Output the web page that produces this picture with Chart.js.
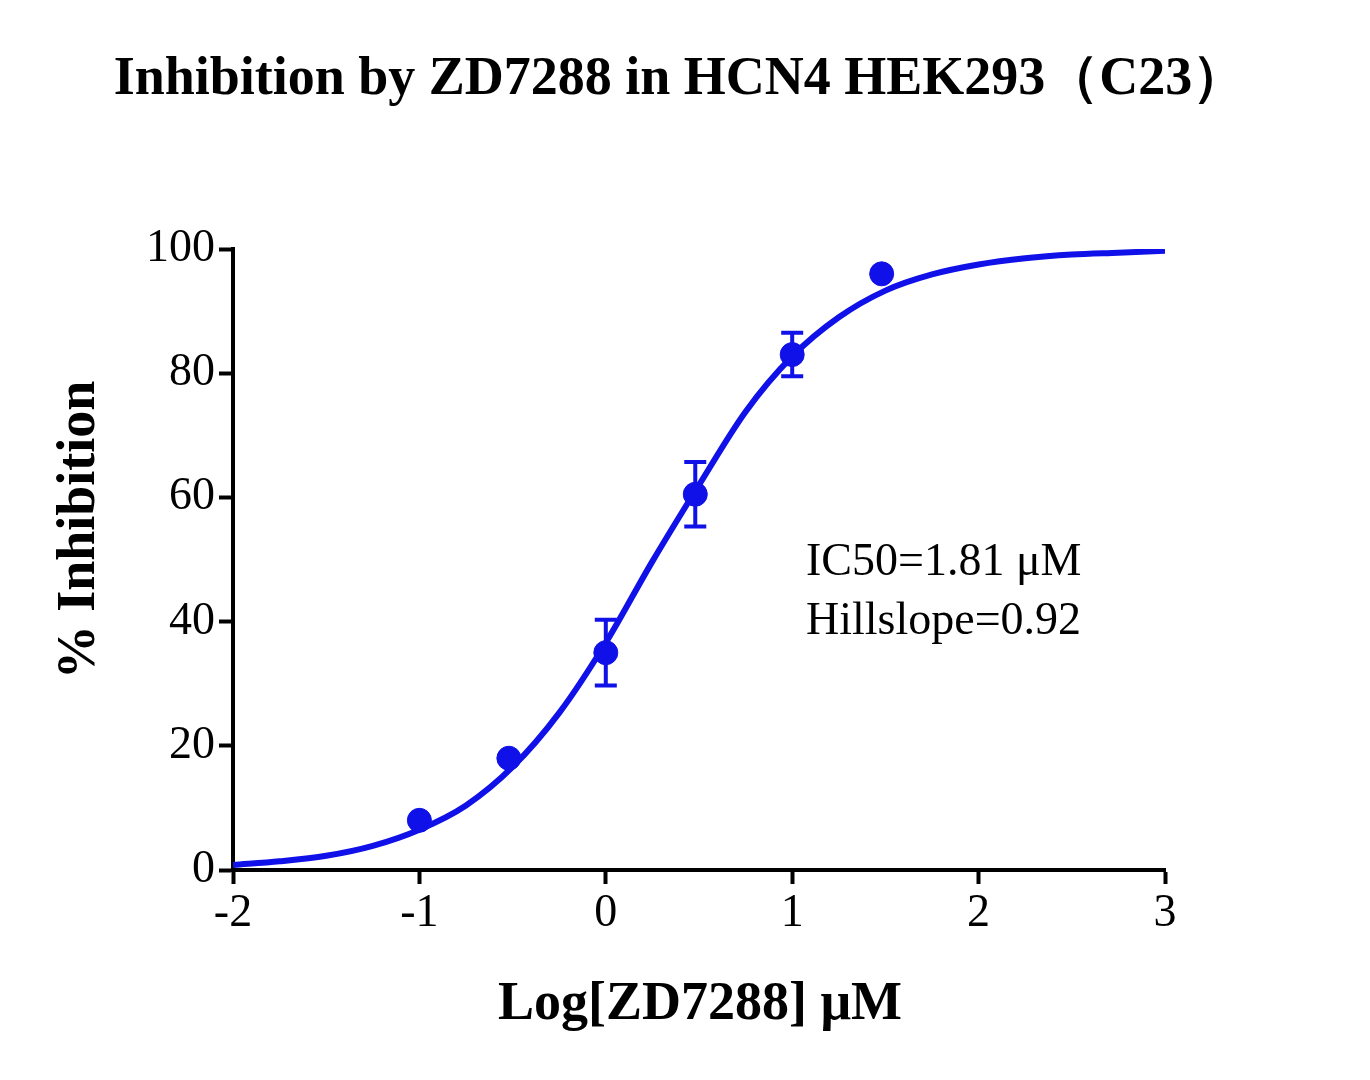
<!DOCTYPE html>
<html>
<head>
<meta charset="utf-8">
<script src="https://cdn.jsdelivr.net/npm/chart.js@4"></script>
<style>
  body { margin: 0; background: #fff; }
  #wrap { width: 1370px; height: 1080px; }
</style>
</head>
<body>
<div id="wrap"><canvas id="myChart"></canvas></div>
<script>
// Datos medidos (log concentración, % inhibición, error)
var logDosis = [-1, -0.52, 0, 0.48, 1, 1.48];
var inhibicion = [8, 18, 35, 60.5, 83, 96];
var errores = [0, 0, 5.3, 5.2, 3.5, 0];

// Curva ajustada
var curvaX = [-2, -1.75, -1.5, -1.25, -1, -0.75, -0.5, -0.25, 0, 0.25, 0.5, 0.75, 1, 1.25, 1.5, 1.75, 2, 2.25, 2.5, 2.75, 3];
var curvaY = [0.8, 1.4, 2.3, 3.9, 6.5, 10.4, 16.6, 25.3, 36.6, 49.7, 62, 73.8, 82.7, 89, 93.3, 95.9, 97.5, 98.5, 99.1, 99.4, 99.7];

var xTicks = [-2, -1, 0, 1, 2, 3];
var yTicks = [0, 20, 40, 60, 80, 100];

var azul = '#1010e8';
var fuente = "'Liberation Serif', 'Times New Roman', serif";

var puntos = logDosis.map(function (x, i) { return { x: x, y: inhibicion[i] }; });
var curva = curvaX.map(function (x, i) { return { x: x, y: curvaY[i] }; });

var pluginExtras = {
    id: 'extras',
    afterDatasetsDraw: function (chart) {
        var ctx = chart.ctx;
        var xs = chart.scales.x, ys = chart.scales.y;
        ctx.save();
        ctx.strokeStyle = azul;
        ctx.lineWidth = 4;
        logDosis.forEach(function (x, i) {
            if (!errores[i]) return;
            var px = xs.getPixelForValue(x);
            var top = ys.getPixelForValue(inhibicion[i] + errores[i]);
            var bot = ys.getPixelForValue(inhibicion[i] - errores[i]);
            ctx.beginPath();
            ctx.moveTo(px, top); ctx.lineTo(px, bot);
            ctx.moveTo(px - 11, top); ctx.lineTo(px + 11, top);
            ctx.moveTo(px - 11, bot); ctx.lineTo(px + 11, bot);
            ctx.stroke();
        });
        ctx.fillStyle = '#000';
        ctx.textAlign = 'left';
        ctx.textBaseline = 'middle';
        ctx.font = '46px ' + fuente;
        ctx.fillText('IC50=1.81 \u03bcM', 806, 563);
        ctx.fillText('Hillslope=0.92', 806, 622);
        ctx.textAlign = 'center';
        ctx.font = 'bold 54px ' + fuente;
        ctx.fillText('Inhibition by ZD7288 in HCN4 HEK293\uff08C23\uff09', 680, 80);
        ctx.fillText('Log[ZD7288] \u03bcM', 700, 1005);
        ctx.translate(80, 530);
        ctx.rotate(-Math.PI / 2);
        ctx.fillText('% Inhibition', 0, 0);
        ctx.restore();
    }
};

var ejeGrid = { display: true, drawOnChartArea: false, drawTicks: true, tickLength: 14, tickWidth: 4, tickColor: '#000' };

var myChart = new Chart(document.getElementById('myChart').getContext('2d'), {
    type: 'scatter',
    data: {
        datasets: [
            { data: curva, showLine: true, borderColor: azul, borderWidth: 6, pointRadius: 0, cubicInterpolationMode: 'monotone' },
            { data: puntos, backgroundColor: azul, borderColor: azul, pointRadius: 12 }
        ]
    },
    options: {
        responsive: true,
        maintainAspectRatio: false,
        animation: false,
        layout: { padding: { left: 0, right: 205, top: 249, bottom: 0 } },
        plugins: { legend: { display: false }, tooltip: { enabled: false } },
        scales: {
            x: {
                type: 'linear', min: -2, max: 3,
                afterFit: function (s) { s.height = 210; },
                afterBuildTicks: function (s) { s.ticks = xTicks.map(function (v) { return { value: v }; }); },
                grid: ejeGrid,
                border: { color: '#000', width: 4 },
                ticks: { color: '#000', font: { family: fuente, size: 46 }, padding: 2 }
            },
            y: {
                type: 'linear', min: 0, max: 100,
                afterFit: function (s) { s.width = 233; },
                afterBuildTicks: function (s) { s.ticks = yTicks.map(function (v) { return { value: v }; }); },
                grid: ejeGrid,
                border: { color: '#000', width: 4 },
                ticks: { color: '#000', font: { family: fuente, size: 46 }, padding: 4 }
            }
        }
    },
    plugins: [pluginExtras]
});
</script>
</body>
</html>
